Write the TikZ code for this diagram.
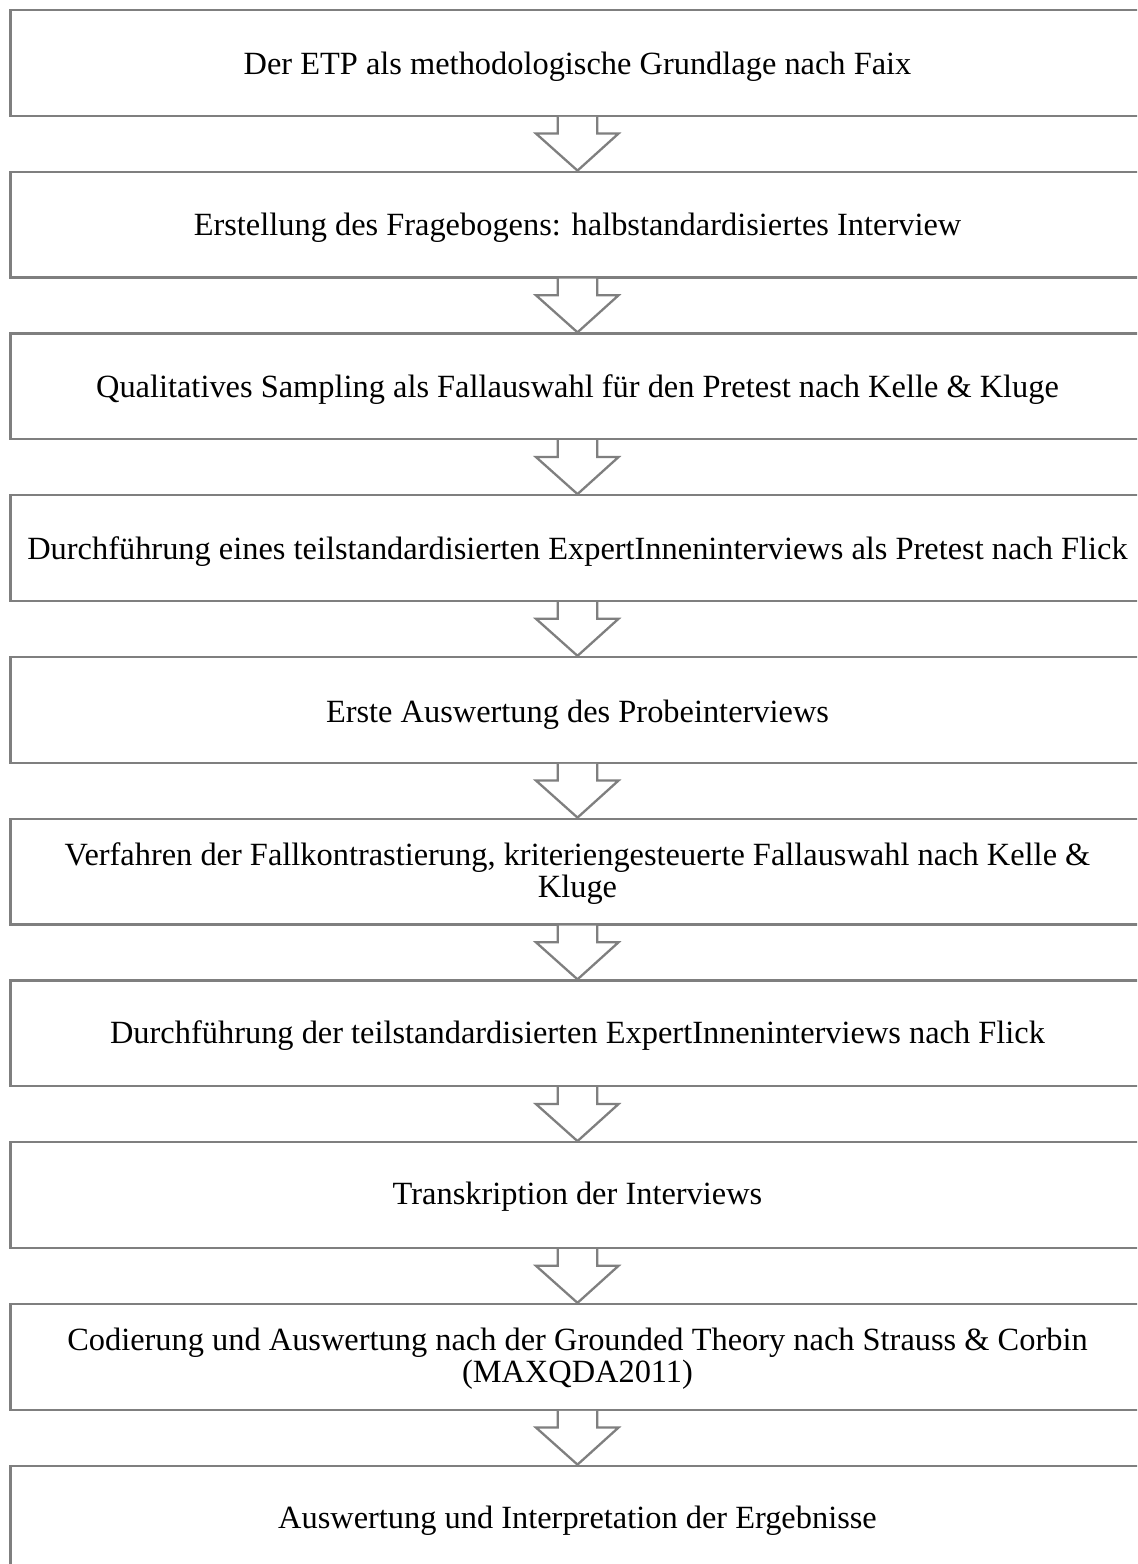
\documentclass[tikz,border=0pt]{standalone}
\usepackage{fontspec}
\setmainfont{Liberation Serif}
\usetikzlibrary{calc}
\definecolor{framegray}{HTML}{7F7F7F}

% Block arrow between two stacked boxes: shaft starts at the lower edge of #1,
% the tip touches the upper edge of #2.
\newcommand{\stagearrow}[2]{%
  \fill[white] ($(#1.south)+(-19.8,0)$) -- ($(#1.south)+(-19.8,-16.7)$)
    -- ($(#1.south)+(-41.5,-16.7)$) -- (#2.north)
    -- ($(#1.south)+(41,-16.7)$) -- ($(#1.south)+(19.8,-16.7)$)
    -- ($(#1.south)+(19.8,0)$) -- cycle;
  \draw[framegray, line width=1.15pt, line join=miter]
    ($(#1.south)+(-19.8,0.6)$) -- ($(#1.south)+(-19.8,-16.7)$)
    -- ($(#1.south)+(-41.5,-16.7)$) -- (#2.north)
    -- ($(#1.south)+(41,-16.7)$) -- ($(#1.south)+(19.8,-16.7)$)
    -- ($(#1.south)+(19.8,0.6)$);
}

\begin{document}
\begin{tikzpicture}[x=0.5pt, y=0.5pt,
  stage/.style={draw=framegray, line width=1.15pt, fill=white,
    minimum width=567pt, minimum height=52.85pt, inner sep=0pt},
  stagetext/.style={align=center, inner sep=0pt,
    font=\fontsize{16.2pt}{13.5pt}\selectfont}]
\useasboundingbox (0,0) rectangle (1137,-1564);
\clip (0,0) rectangle (1137,-1564);
\fill[white] (0,0) rectangle (1137,-1564);

\node[stage] (b1)  at (577.5,-62.85)   {};
\node[stage] (b2)  at (577.5,-224.6)   {};
\node[stage] (b3)  at (577.5,-386.35)  {};
\node[stage] (b4)  at (577.5,-548.1)   {};
\node[stage] (b5)  at (577.5,-709.85)  {};
\node[stage] (b6)  at (577.5,-871.6)   {};
\node[stage] (b7)  at (577.5,-1033.35) {};
\node[stage] (b8)  at (577.5,-1195.1)  {};
\node[stage] (b9)  at (577.5,-1356.85) {};
\node[stage] (b10) at (577.5,-1518.6)  {};

\node[stagetext] (t1)  at ($(b1)+(0,-4)$)  {Der ETP als methodologische Grundlage nach Faix};
\node[stagetext] (t2)  at ($(b2)+(0,-3)$)  {Erstellung des Fragebogens: halbstandardisiertes Interview};
\node[stagetext] (t3)  at ($(b3)+(0,-3)$)  {Qualitatives Sampling als Fallauswahl für den Pretest nach Kelle \& Kluge};
\node[stagetext] (t4)  at ($(b4)+(0,-3)$)  {Durchführung eines teilstandardisierten ExpertInneninterviews als Pretest nach Flick};
\node[stagetext] (t5)  at ($(b5)+(0,-5)$)  {Erste Auswertung des Probeinterviews};
\node[stagetext] (t6)  at ($(b6)+(0,-2)$)  {Verfahren der Fallkontrastierung, kriteriengesteuerte Fallauswahl nach Kelle \&\\Kluge};
\node[stagetext] (t7)  at ($(b7)+(0,-2)$)  {Durchführung der teilstandardisierten ExpertInneninterviews nach Flick};
\node[stagetext] (t8)  at ($(b8)+(0,-2)$)  {Transkription der Interviews};
\node[stagetext] (t9)  at ($(b9)+(0,-2)$)  {Codierung und Auswertung nach der Grounded Theory nach Strauss \& Corbin\\(MAXQDA2011)};
\node[stagetext] (t10) at ($(b10)+(0,-2)$) {Auswertung und Interpretation der Ergebnisse};

\stagearrow{b1}{b2}
\stagearrow{b2}{b3}
\stagearrow{b3}{b4}
\stagearrow{b4}{b5}
\stagearrow{b5}{b6}
\stagearrow{b6}{b7}
\stagearrow{b7}{b8}
\stagearrow{b8}{b9}
\stagearrow{b9}{b10}
\end{tikzpicture}
\end{document}
